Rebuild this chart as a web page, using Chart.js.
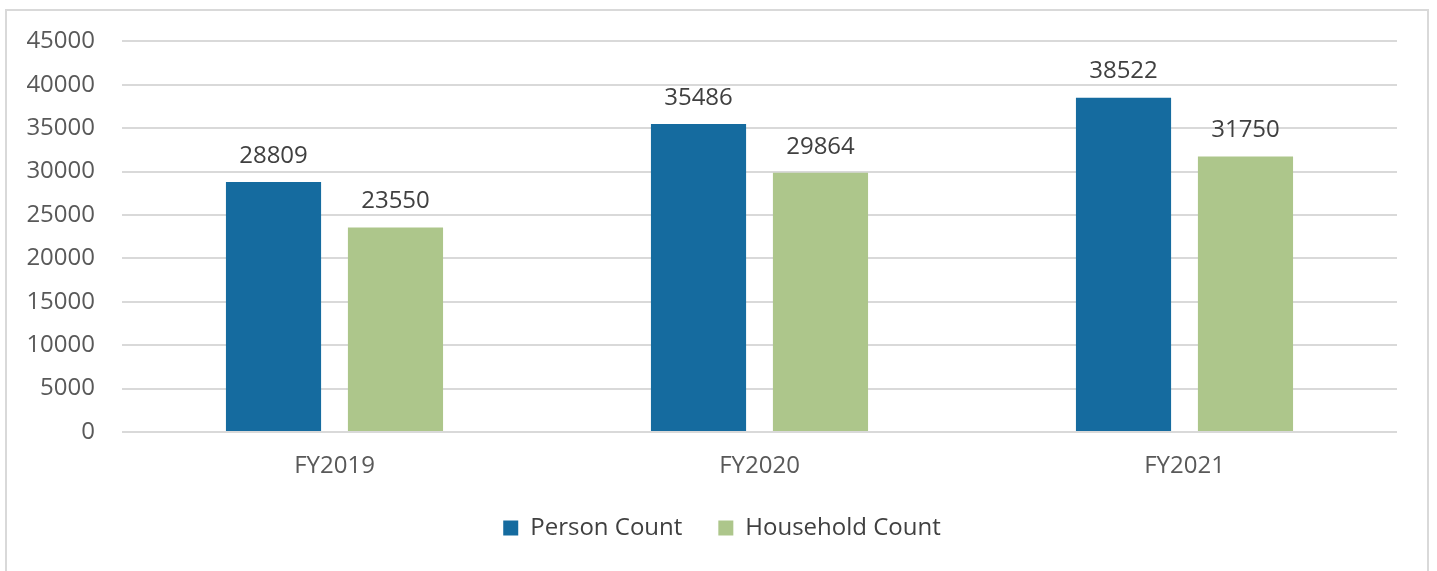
<!DOCTYPE html>
<html lang="en">
<head>
<meta charset="utf-8">
<title>Person and Household Count</title>
<script src="https://cdn.jsdelivr.net/npm/chart.js"></script>
<style>
    html, body { margin: 0; padding: 0; background: #fff; }
    .frame { position: absolute; left: 5px; top: 9px; width: 1424px; height: 580px; border: 2px solid #d9d9d9; box-sizing: border-box; }
    .wrap { position: absolute; left: 0; top: 0; width: 1437px; height: 571px; }
</style>
</head>
<body>
<div class="frame"></div>
<div class="wrap"><canvas id="chart" width="1437" height="571"></canvas></div>
<script>
    const years = ['FY2019', 'FY2020', 'FY2021'];
    const personCount = [28809, 35486, 38522];
    const householdCount = [23550, 29864, 31750];
    const yTicks = [0, 5000, 10000, 15000, 20000, 25000, 30000, 35000, 40000, 45000];

    const FONT = '"Open Sans", "DejaVu Sans", sans-serif';

    // labels au-dessus des barres
    const valueLabels = {
        id: 'valueLabels',
        afterDatasetsDraw(chart) {
            const ctx = chart.ctx;
            ctx.save();
            ctx.font = '24px ' + FONT;
            ctx.fillStyle = '#404040';
            ctx.textAlign = 'center';
            ctx.textBaseline = 'bottom';
            chart.data.datasets.forEach((ds, i) => {
                chart.getDatasetMeta(i).data.forEach((bar, j) => {
                    ctx.fillText(String(ds.data[j]), bar.x, bar.y - 14);
                });
            });
            ctx.restore();
        }
    };

    new Chart(document.getElementById('chart'), {
        type: 'bar',
        data: {
            labels: years,
            datasets: [
                { label: 'Person Count', data: personCount, backgroundColor: '#156b9f', barPercentage: 0.78, categoryPercentage: 0.574 },
                { label: 'Household Count', data: householdCount, backgroundColor: '#adc68b', barPercentage: 0.78, categoryPercentage: 0.574 }
            ]
        },
        options: {
            responsive: false,
            animation: false,
            layout: { padding: { top: 34, right: 0, left: 7, bottom: 21 } },
            plugins: {
                tooltip: { enabled: false },
                legend: {
                    position: 'bottom',
                    labels: {
                        font: { size: 24, family: FONT },
                        color: '#404040',
                        boxWidth: 15,
                        boxHeight: 15,
                        padding: 36
                    }
                }
            },
            scales: {
                y: {
                    min: 0,
                    max: 45000,
                    afterBuildTicks: (s) => { s.ticks = yTicks.map(v => ({ value: v })); },
                    afterFit: (s) => { s.width = 115; },
                    border: { display: false },
                    grid: { color: '#d9d9d9', lineWidth: 2, drawTicks: false },
                    ticks: { font: { size: 24, family: FONT }, color: '#595959', padding: 27, callback: (v) => String(v) }
                },
                // axe vide à droite, juste pour la marge
                spacer: {
                    type: 'linear',
                    position: 'right',
                    border: { display: false },
                    grid: { display: false, drawTicks: false },
                    ticks: { display: false },
                    afterFit: (s) => { s.width = 40; }
                },
                x: {
                    border: { display: false },
                    grid: { display: false, drawTicks: false },
                    afterFit: (s) => { s.height = 48; },
                    ticks: { font: { size: 24, family: FONT }, color: '#595959', padding: 20 }
                }
            }
        },
        plugins: [valueLabels]
    });
</script>
</body>
</html>
